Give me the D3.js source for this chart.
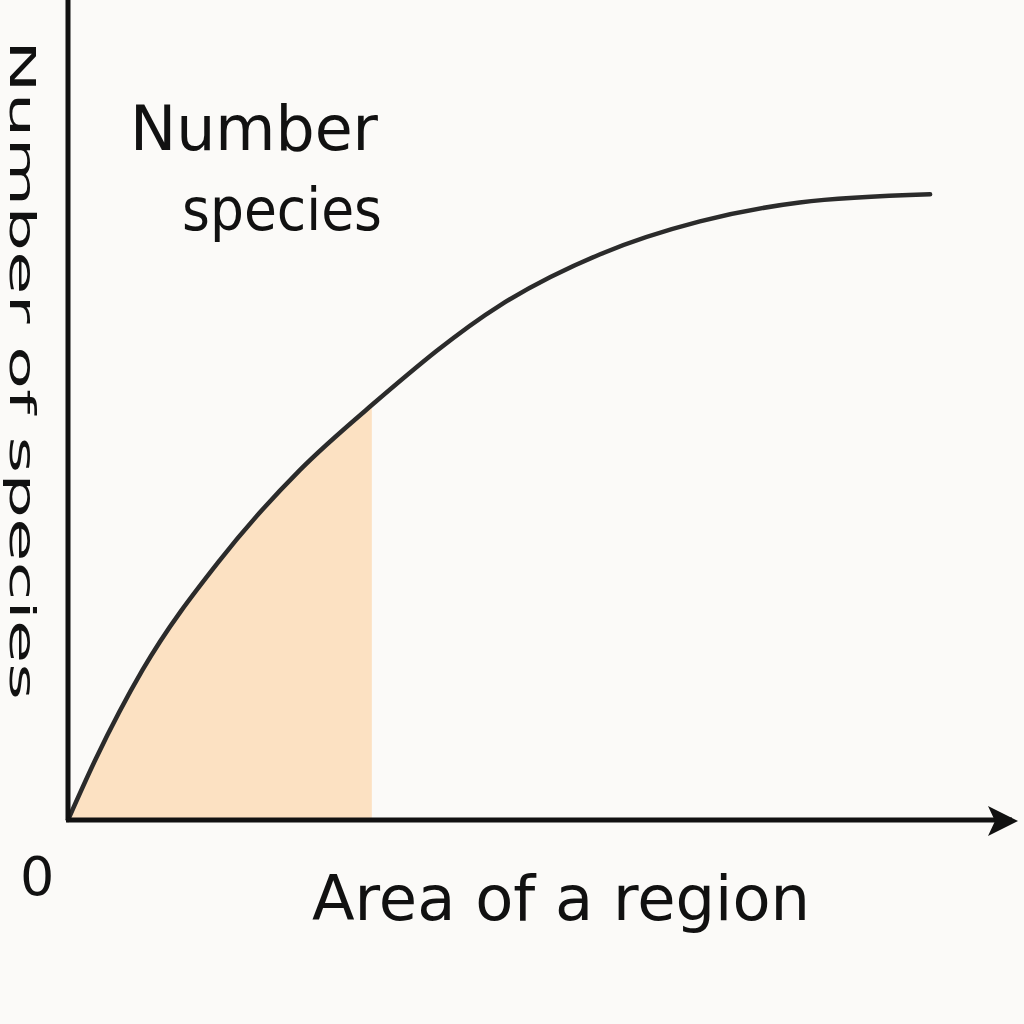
<!DOCTYPE html>
<html>
<head>
<meta charset="utf-8">
<script src="https://cdn.jsdelivr.net/npm/d3@7"></script>
<style>
  html, body { margin: 0; padding: 0; background: #fbfaf8; }
  svg { display: block; }
  text { font-family: "DejaVu Sans", sans-serif; fill: #111; }
</style>
</head>
<body>
<div id="chart"></div>
<script>
// area of a region (x) vs number of species (y)
var areaValues = [0, 3, 8, 16.3, 24.9, 32.6, 46.4, 57.1, 67.8, 78.5, 92.5];
var speciesValues = [0, 7.5, 18.3, 31.7, 42.7, 50.6, 62.8, 69.0, 73.0, 75.3, 76.3];
var shadeEnd = 32.6;
var originLabel = ["0"];

var width = 1024, height = 1024;

var svg = d3.select("#chart").append("svg")
  .attr("width", width)
  .attr("height", height);

svg.append("rect")
  .attr("width", width).attr("height", height)
  .attr("fill", "#fbfaf8");

var x = d3.scaleLinear().domain([0, 100]).range([68, 1000]);
var y = d3.scaleLinear().domain([0, 100]).range([820, 0]);

var data = areaValues.map(function(a, i) { return { a: a, s: speciesValues[i] }; });

// shaded part under the curve
var shaded = data.filter(function(d) { return d.a <= shadeEnd; });

var area = d3.area()
  .x(function(d) { return x(d.a); })
  .y0(y(0))
  .y1(function(d) { return y(d.s); })
  .curve(d3.curveMonotoneX);

svg.append("path")
  .datum(shaded)
  .attr("d", area)
  .attr("fill", "#fce1c2");

// curve
var line = d3.line()
  .x(function(d) { return x(d.a); })
  .y(function(d) { return y(d.s); })
  .curve(d3.curveMonotoneX);

svg.append("path")
  .datum(data)
  .attr("d", line)
  .attr("fill", "none")
  .attr("stroke", "#2b2b2b")
  .attr("stroke-width", 4.5)
  .attr("stroke-linecap", "round");

// axes: y axis line, x axis with arrow
svg.append("line")
  .attr("x1", x(0)).attr("x2", x(0))
  .attr("y1", 0).attr("y2", y(0))
  .attr("stroke", "#111").attr("stroke-width", 5);

svg.append("line")
  .attr("x1", x(0) - 2).attr("x2", 1012)
  .attr("y1", y(0)).attr("y2", y(0))
  .attr("stroke", "#111").attr("stroke-width", 5);

svg.append("path")
  .attr("d", "M988,806 L1018,821 L988,836 L995,821 Z")
  .attr("fill", "#111");

// labels
svg.append("text")
  .attr("x", 130).attr("y", 150)
  .attr("font-size", 62)
  .attr("textLength", 248)
  .attr("lengthAdjust", "spacingAndGlyphs")
  .text("Number");

svg.append("text")
  .attr("x", 182).attr("y", 230)
  .attr("font-size", 58)
  .attr("textLength", 200)
  .attr("lengthAdjust", "spacingAndGlyphs")
  .text("species");

svg.append("text")
  .attr("x", 312).attr("y", 920)
  .attr("font-size", 62)
  .attr("textLength", 498)
  .attr("lengthAdjust", "spacingAndGlyphs")
  .text("Area of a region");

svg.selectAll("text.origin")
  .data(originLabel)
  .enter().append("text")
  .attr("class", "origin")
  .attr("x", 20).attr("y", 895)
  .attr("font-size", 54)
  .text(function(d) { return d; });

// vertical label along the left edge
svg.append("text")
  .attr("transform", "translate(10,40) rotate(90)")
  .attr("font-size", 36)
  .attr("textLength", 660)
  .attr("lengthAdjust", "spacingAndGlyphs")
  .text("Number of species");
</script>
</body>
</html>
